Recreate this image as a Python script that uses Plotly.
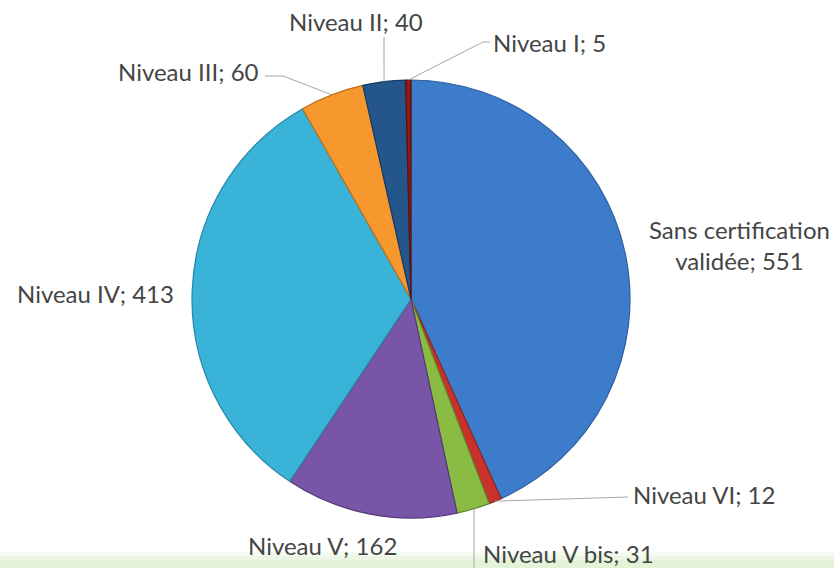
import math

import plotly.graph_objects as go

# data
labels = [
    "Sans certification validée",
    "Niveau VI",
    "Niveau V bis",
    "Niveau V",
    "Niveau IV",
    "Niveau III",
    "Niveau II",
    "Niveau I",
]
values = [551, 12, 31, 162, 413, 60, 40, 5]
colors = ["#3d7bcb", "#c9322b", "#8abb42", "#7955a8", "#39b3d8", "#f7982f", "#24558b", "#8c1b17"]
edges = ["#2d5f9e", "#8f2420", "#5f8a2c", "#553a7a", "#2687a8", "#c0701c", "#173a62", "#5e100d"]

W, H = 834, 568
CX, CY, R = 411, 299, 219  # pie centre / radius in pixels


def px(x):
    return x / W


def py(y):
    return 1 - y / H


fig = go.Figure(
    go.Pie(
        labels=labels,
        values=values,
        sort=False,
        direction="clockwise",
        rotation=0,
        marker=dict(colors=colors, line=dict(color=edges, width=1.2)),
        textinfo="none",
        hoverinfo="label+value",
        domain=dict(x=[px(CX - R), px(CX + R)], y=[py(CY + R), py(CY - R)]),
        showlegend=False,
    )
)

# where each label sits (pixels), and the leader path after the slice edge
label_layout = {
    "Sans certification validée": dict(x=739, y=245, anchor="center", path=None),
    "Niveau VI": dict(x=631, y=494, anchor="left", path=[(628, 497)]),
    "Niveau V bis": dict(x=481, y=553, anchor="left", path=[(474, 568)]),
    "Niveau V": dict(x=246, y=545, anchor="left", path=None),
    "Niveau IV": dict(x=176, y=293, anchor="right", path=None),
    "Niveau III": dict(x=261, y=71, anchor="right", path=[(283, 76), (265, 76)]),
    "Niveau II": dict(x=287, y=21, anchor="left", path=[(384, 37)]),
    "Niveau I": dict(x=491, y=43, anchor="left", path=[(483, 42), (490, 42)]),
}

total = sum(values)
start = 0.0
for lab, val in zip(labels, values):
    span = val / total * 360
    mid = math.radians(start + span / 2)
    start += span
    spec = label_layout[lab]
    text = f"{lab}; {val}"
    if lab.startswith("Sans"):
        text = "Sans certification<br>validée; " + str(val)
    fig.add_annotation(
        x=px(spec["x"]),
        y=py(spec["y"]),
        xref="paper",
        yref="paper",
        text=text,
        showarrow=False,
        xanchor=spec["anchor"],
        yanchor="middle",
        font=dict(family="Lato", size=24, color="#454545"),
    )
    if spec["path"]:
        pts = [(CX + R * math.sin(mid), CY - R * math.cos(mid))] + spec["path"]
        if lab == "Niveau V bis":
            pts[0] = (pts[1][0], pts[0][1])
        for (x0, y0), (x1, y1) in zip(pts[:-1], pts[1:]):
            fig.add_shape(
                type="line",
                xref="paper",
                yref="paper",
                x0=px(x0),
                y0=py(y0),
                x1=px(x1),
                y1=py(y1),
                line=dict(color="#a6a6a6", width=1),
            )

# light green band at the bottom
for y0, y1, c in [(552, 556, "#f4fbf0"), (556, 560, "#ebf7e4"), (560, 568, "#e2f3d8")]:
    fig.add_shape(
        type="rect",
        xref="paper",
        yref="paper",
        x0=0,
        x1=1,
        y0=py(y1),
        y1=py(y0),
        line=dict(width=0),
        fillcolor=c,
        layer="below",
    )

fig.update_layout(
    width=W,
    height=H,
    margin=dict(l=0, r=0, t=0, b=0),
    paper_bgcolor="white",
    plot_bgcolor="white",
)

# drop the default page margin so the figure fills the window
fig.write_html(
    "out.html",
    config={"displayModeBar": False},
    post_script="document.body.style.margin = '0';",
)
